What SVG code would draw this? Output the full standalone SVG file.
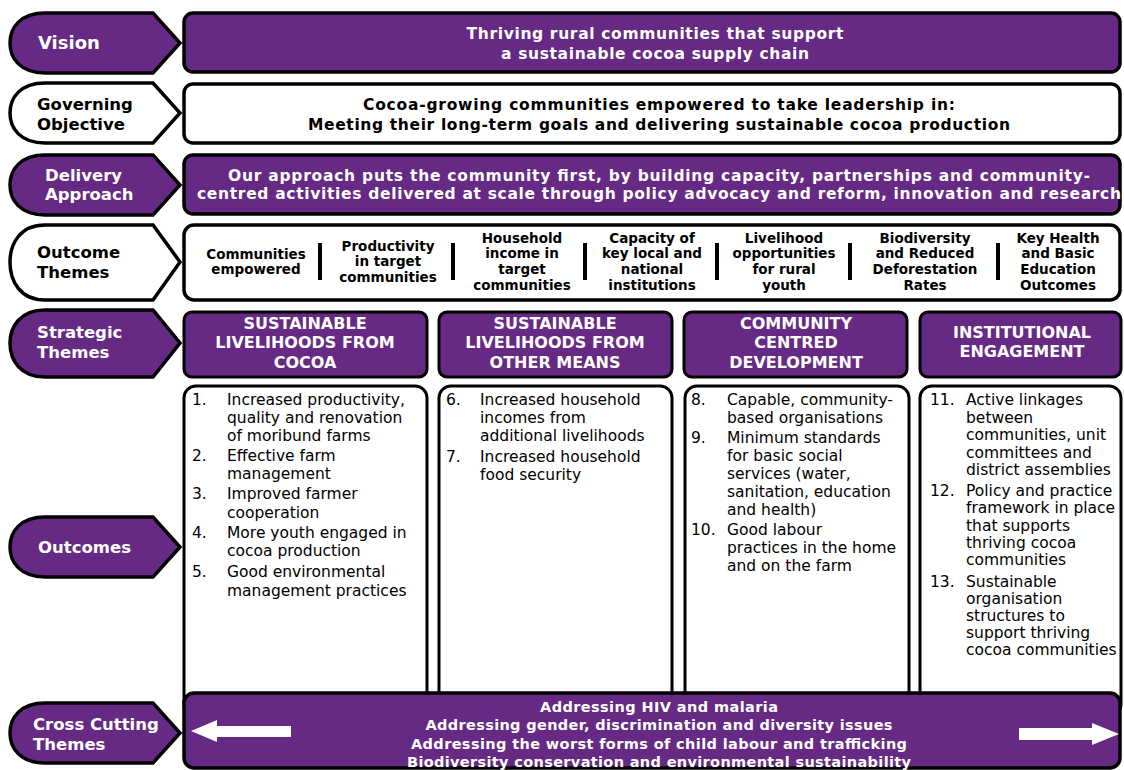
<svg xmlns="http://www.w3.org/2000/svg" width="1124" height="770" viewBox="0 0 1124 770">
<defs>
<style>
.pur{fill:#662a85;stroke:#000;stroke-width:3.5}
.wht{fill:#fff;stroke:#000;stroke-width:3.5}
.box{fill:#fff;stroke:#000;stroke-width:3}
.spur{fill:#662a85;stroke:#000;stroke-width:3}
text{font-family:"DejaVu Sans","Liberation Sans",sans-serif}
.lw{font-weight:bold;font-size:16.5px;fill:#fff}
.lb{font-weight:bold;font-size:16.5px;fill:#000}
.hw{font-weight:bold;font-size:15.5px;fill:#fff;text-anchor:middle}
.hb{font-weight:bold;font-size:15.5px;fill:#000;text-anchor:middle}
.ot{font-weight:bold;font-size:13.5px;fill:#000;text-anchor:middle}
.st{font-weight:bold;font-size:16px;fill:#fff;text-anchor:middle}
.oc{font-size:15.5px;fill:#000}
.cc{font-weight:bold;font-size:14.5px;fill:#fff;text-anchor:middle}
.bar{fill:#000}
.arr{fill:#fff}
</style>
</defs>

<g id="label-vision">
<path class="pur" d="M45 13 H153 L180 43 L153 73 H45 C20 73 10 58 10 43 C10 28 20 13 45 13 Z"/>
<text class="lw" x="38" y="49" style="font-size:18px">Vision</text>
</g>
<g id="label-governing">
<path class="wht" d="M45 83 H153 L180 113 L153 143 H45 C20 143 10 128 10 113 C10 98 20 83 45 83 Z"/>
<text class="lb" x="37" y="110">Governing</text>
<text class="lb" x="37" y="130">Objective</text>
</g>
<g id="label-delivery">
<path class="pur" d="M45 155 H153 L180 185 L153 215 H45 C20 215 10 200 10 185 C10 170 20 155 45 155 Z"/>
<text class="lw" x="45" y="181">Delivery</text>
<text class="lw" x="45" y="200">Approach</text>
</g>
<g id="label-outcome-themes">
<path class="wht" d="M45 225 H153 L180 262 L153 300 H45 C20 300 10 281 10 262 C10 244 20 225 45 225 Z"/>
<text class="lb" x="37" y="258">Outcome</text>
<text class="lb" x="37" y="278">Themes</text>
</g>
<g id="label-strategic">
<path class="pur" d="M45 310 H153 L180 343 L153 377 H45 C20 377 10 360 10 343 C10 327 20 310 45 310 Z"/>
<text class="lw" x="37" y="338">Strategic</text>
<text class="lw" x="37" y="358">Themes</text>
</g>
<g id="label-outcomes">
<path class="pur" d="M45 517 H153 L180 547 L153 577 H45 C20 577 10 562 10 547 C10 532 20 517 45 517 Z"/>
<text class="lw" x="38" y="553">Outcomes</text>
</g>
<g id="label-cross">
<path class="pur" d="M45 703 H153 L180 733 L153 763 H45 C20 763 10 748 10 733 C10 718 20 703 45 703 Z"/>
<text class="lw" x="33" y="730">Cross Cutting</text>
<text class="lw" x="33" y="750">Themes</text>
</g>

<g id="vision">
<rect class="pur" x="184" y="13" width="936" height="59" rx="9"/>
<text class="hw" x="655" y="39" textLength="377" lengthAdjust="spacing">Thriving rural communities that support</text>
<text class="hw" x="655" y="59" textLength="308" lengthAdjust="spacing">a sustainable cocoa supply chain</text>
</g>
<g id="governing">
<rect class="wht" x="184" y="84" width="936" height="59" rx="9"/>
<text class="hb" x="659" y="110" textLength="592" lengthAdjust="spacing">Cocoa-growing communities empowered to take leadership in:</text>
<text class="hb" x="659" y="130" textLength="702" lengthAdjust="spacing">Meeting their long-term goals and delivering sustainable cocoa production</text>
</g>
<g id="delivery">
<rect class="pur" x="184" y="155" width="936" height="59" rx="9"/>
<text class="hw" x="659" y="181" textLength="862" lengthAdjust="spacing">Our approach puts the community first, by building capacity, partnerships and community-</text>
<text class="hw" x="659" y="199" textLength="924" lengthAdjust="spacing">centred activities delivered at scale through policy advocacy and reform, innovation and research</text>
</g>
<g id="outcome-themes">
<rect class="wht" x="184" y="225" width="936" height="75" rx="10"/>
<text class="ot" x="256" y="259">Communities</text>
<text class="ot" x="256" y="274">empowered</text>
<rect class="bar" x="318" y="243" width="4" height="37"/>
<text class="ot" x="388" y="251">Productivity</text>
<text class="ot" x="388" y="266">in target</text>
<text class="ot" x="388" y="282">communities</text>
<rect class="bar" x="451" y="243" width="4" height="37"/>
<text class="ot" x="522" y="243">Household</text>
<text class="ot" x="522" y="258">income in</text>
<text class="ot" x="522" y="274">target</text>
<text class="ot" x="522" y="290">communities</text>
<rect class="bar" x="583" y="243" width="4" height="37"/>
<text class="ot" x="652" y="243">Capacity of</text>
<text class="ot" x="652" y="258">key local and</text>
<text class="ot" x="652" y="274">national</text>
<text class="ot" x="652" y="290">institutions</text>
<rect class="bar" x="715" y="243" width="4" height="37"/>
<text class="ot" x="784" y="243">Livelihood</text>
<text class="ot" x="784" y="258">opportunities</text>
<text class="ot" x="784" y="274">for rural</text>
<text class="ot" x="784" y="290">youth</text>
<rect class="bar" x="848" y="243" width="4" height="37"/>
<text class="ot" x="925" y="243">Biodiversity</text>
<text class="ot" x="925" y="258">and Reduced</text>
<text class="ot" x="925" y="274">Deforestation</text>
<text class="ot" x="925" y="290">Rates</text>
<rect class="bar" x="996" y="243" width="4" height="37"/>
<text class="ot" x="1058" y="243">Key Health</text>
<text class="ot" x="1058" y="258">and Basic</text>
<text class="ot" x="1058" y="274">Education</text>
<text class="ot" x="1058" y="290">Outcomes</text>
</g>

<g id="theme-cocoa">
<rect class="spur" x="184" y="312" width="243" height="65" rx="8"/>
<text class="st" x="305" y="329">SUSTAINABLE</text>
<text class="st" x="305" y="348">LIVELIHOODS FROM</text>
<text class="st" x="305" y="368">COCOA</text>
</g>
<g id="theme-other">
<rect class="spur" x="439" y="312" width="233" height="65" rx="8"/>
<text class="st" x="555" y="329">SUSTAINABLE</text>
<text class="st" x="555" y="348">LIVELIHOODS FROM</text>
<text class="st" x="555" y="368">OTHER MEANS</text>
</g>
<g id="theme-community">
<rect class="spur" x="684" y="312" width="223" height="65" rx="8"/>
<text class="st" x="796" y="329">COMMUNITY</text>
<text class="st" x="796" y="348">CENTRED</text>
<text class="st" x="796" y="368">DEVELOPMENT</text>
</g>
<g id="theme-institutional">
<rect class="spur" x="920" y="312" width="201" height="65" rx="8"/>
<text class="st" x="1022" y="338">INSTITUTIONAL</text>
<text class="st" x="1022" y="357">ENGAGEMENT</text>
</g>

<g id="outcomes-cocoa">
<rect class="box" x="184" y="386" width="243" height="330" rx="12"/>
<text class="oc"><tspan x="192" y="405">1.</tspan><tspan x="227" y="405">Increased productivity,</tspan><tspan x="227" y="423">quality and renovation</tspan><tspan x="227" y="441">of moribund farms</tspan>
<tspan x="192" y="461">2.</tspan><tspan x="227" y="461">Effective farm</tspan><tspan x="227" y="479">management</tspan>
<tspan x="192" y="499">3.</tspan><tspan x="227" y="499">Improved farmer</tspan><tspan x="227" y="518">cooperation</tspan>
<tspan x="192" y="538">4.</tspan><tspan x="227" y="538">More youth engaged in</tspan><tspan x="227" y="556">cocoa production</tspan>
<tspan x="192" y="577">5.</tspan><tspan x="227" y="577">Good environmental</tspan><tspan x="227" y="596">management practices</tspan></text>
</g>
<g id="outcomes-other">
<rect class="box" x="439" y="386" width="233" height="330" rx="12"/>
<text class="oc"><tspan x="446" y="405">6.</tspan><tspan x="480" y="405">Increased household</tspan><tspan x="480" y="423">incomes from</tspan><tspan x="480" y="441">additional livelihoods</tspan>
<tspan x="446" y="462">7.</tspan><tspan x="480" y="462">Increased household</tspan><tspan x="480" y="480">food security</tspan></text>
</g>
<g id="outcomes-community">
<rect class="box" x="685" y="386" width="224" height="330" rx="12"/>
<text class="oc"><tspan x="691" y="405">8.</tspan><tspan x="727" y="405">Capable, community-</tspan><tspan x="727" y="423">based organisations</tspan>
<tspan x="691" y="443">9.</tspan><tspan x="727" y="443">Minimum standards</tspan><tspan x="727" y="461">for basic social</tspan><tspan x="727" y="479">services (water,</tspan><tspan x="727" y="497">sanitation, education</tspan><tspan x="727" y="515">and health)</tspan>
<tspan x="691" y="535">10.</tspan><tspan x="727" y="535">Good labour</tspan><tspan x="727" y="553">practices in the home</tspan><tspan x="727" y="571">and on the farm</tspan></text>
</g>
<g id="outcomes-institutional">
<rect class="box" x="920" y="386" width="201" height="330" rx="12"/>
<text class="oc"><tspan x="930" y="405">11.</tspan><tspan x="966" y="405">Active linkages</tspan><tspan x="966" y="423">between</tspan><tspan x="966" y="440">communities, unit</tspan><tspan x="966" y="458">committees and</tspan><tspan x="966" y="475">district assemblies</tspan>
<tspan x="930" y="496">12.</tspan><tspan x="966" y="496">Policy and practice</tspan><tspan x="966" y="513">framework in place</tspan><tspan x="966" y="531">that supports</tspan><tspan x="966" y="548">thriving cocoa</tspan><tspan x="966" y="565">communities</tspan>
<tspan x="930" y="587">13.</tspan><tspan x="966" y="587">Sustainable</tspan><tspan x="966" y="604">organisation</tspan><tspan x="966" y="621">structures to</tspan><tspan x="966" y="638">support thriving</tspan><tspan x="966" y="655">cocoa communities</tspan></text>
</g>

<g id="cross-cutting">
<rect class="pur" x="184" y="693" width="936" height="75" rx="10"/>
<text class="cc" x="659" y="712" textLength="238" lengthAdjust="spacing">Addressing HIV and malaria</text>
<text class="cc" x="659" y="730" textLength="467" lengthAdjust="spacing">Addressing gender, discrimination and diversity issues</text>
<text class="cc" x="659" y="749" textLength="496" lengthAdjust="spacing">Addressing the worst forms of child labour and trafficking</text>
<text class="cc" x="659" y="767" textLength="504" lengthAdjust="spacing">Biodiversity conservation and environmental sustainability</text>
</g>

<g id="connectors">
<path class="arr" d="M191 731 L217 720 V726 H291 V737 H217 V742 Z"/>
<path class="arr" d="M1119 734 L1092 723 V728 H1019 V740 H1092 V745 Z"/>
</g>
</svg>
